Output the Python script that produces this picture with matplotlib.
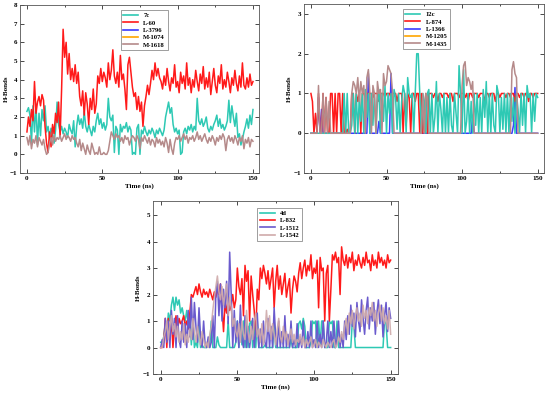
import matplotlib
matplotlib.use("Agg")
import matplotlib.pyplot as plt
from matplotlib.lines import Line2D
from matplotlib.ticker import MultipleLocator

plt.rcParams["font.family"] = ["Liberation Serif", "DejaVu Serif"]
plt.rcParams["font.weight"] = "bold"

# time axis, 1 ns steps, 0..150
time_ns = list(range(151))

# ---- panel A: 7c ----
a_7c = [
    2.3, 2.5, 2.1, 0.6, 2.6, 1.2, 2.7, 0.5, 2.2, 1.0,
    2.4, 1.8, 2.6, 1.2, 1.5, 0.9, 1.4, 1.1, 0.6, 1.3,
    2.8, 1.6, 1.2, 1.5, 1.1, 1.4, 1.2, 0.9, 1.6, 1.3,
    1.1, 1.8, 0.4, 1.5, 2.1, 1.6, 1.9, 1.4, 2.3, 1.5,
    1.2, 1.6, 1.3, 1.0, 1.5, 1.2, 1.8, 2.2, 1.6, 1.9,
    1.4, 1.7, 1.3, 1.6, 3.0, 2.0, 1.8, 2.1, 0.1, 1.5,
    1.3, 0.0, 1.6, 1.2, 1.5, 1.4, 1.7, 1.2, 1.5, 1.3,
    0.0, 0.1, 0.0, 1.4, 1.6, 0.0, 1.3, 1.1, 1.5, 1.2,
    1.0, 1.3, 1.1, 1.4, 1.2, 0.9, 1.3, 1.1, 1.4, 1.2,
    1.0, 1.3, 2.0, 2.4, 2.8, 2.2, 2.5, 1.6, 1.2, 1.4,
    1.1, 1.3, 0.0, 0.1, 1.2, 1.4, 1.1, 1.5, 1.3, 1.6,
    1.2, 1.5, 1.3, 3.0, 1.8, 1.6, 1.9, 1.5, 1.7, 2.0,
    1.4, 1.2, 1.5, 1.3, 1.6, 1.8, 2.1, 1.5, 1.9, 1.4,
    1.6, 1.3, 1.5, 1.8, 2.9, 1.7, 2.6, 2.0, 1.5, 2.2,
    0.9, 1.1, 0.5, 0.8, 1.2, 1.5, 1.9, 1.4, 2.1, 1.6, 2.4,
]
a_l60 = [
    1.2, 2.0, 1.5, 2.4, 1.8, 3.9, 2.2, 2.8, 3.1, 2.6,
    3.2, 2.9, 1.5, 0.6, 0.1, 1.2, 0.4, 1.6, 1.1, 2.2,
    1.7, 2.8, 0.9, 3.5, 6.7, 5.2, 6.0, 4.3, 5.4, 4.0,
    4.6, 3.9, 4.8, 3.8, 4.4, 3.1, 2.6, 3.4, 2.1, 3.3,
    2.7, 1.6, 3.0, 2.4, 3.5, 2.2, 2.7, 4.2, 3.8, 4.6,
    3.9, 4.4, 4.1, 3.6, 4.9, 4.0, 4.5, 5.6, 4.2, 3.8,
    4.4, 3.6, 5.3, 4.0, 4.3, 3.5, 2.4, 4.8, 5.2, 4.4,
    3.6, 3.1, 3.3, 2.4, 3.1, 2.3, 2.8, 1.5, 2.6, 3.1,
    3.7, 3.2, 3.8, 4.5, 4.0, 4.9, 4.2, 4.6, 4.1, 3.9,
    3.5, 4.2, 3.7, 4.6, 3.9, 3.4, 4.1, 3.8, 4.8, 3.6,
    3.9, 3.3, 4.4, 3.8, 4.2, 3.5, 4.9, 3.7, 4.1, 3.3,
    4.0, 3.6, 4.5, 3.9, 3.4, 4.3, 3.8, 4.7, 3.5, 4.1,
    3.6, 4.4, 3.2, 3.9, 4.6, 3.7, 3.3, 4.2, 3.8, 4.8,
    3.5, 4.0, 3.6, 4.4, 3.9, 3.3, 4.1, 3.7, 4.5, 3.8,
    3.4, 4.2, 3.6, 4.9, 3.7, 3.5, 4.1, 3.6, 4.3, 3.7, 3.9,
]
a_m1618 = [
    0.9, 0.5, 1.0, 0.3, 0.8, 0.6, 1.0, 0.4, 0.9, 0.7,
    0.5, 0.8, 0.3, 0.0, 0.1, 0.6, 0.9, 0.5, 1.0, 0.7,
    0.9, 0.8, 1.0, 0.7, 0.9, 1.1, 0.8, 1.0, 0.9, 0.7,
    1.0, 0.8, 0.9, 0.6, 0.4, 0.8, 0.2, 0.6, 0.3, 0.0,
    0.5, 0.2, 0.0, 0.6, 0.3, 0.0, 0.1, 0.0, 0.4, 0.0,
    0.0, 0.1, 0.0, 0.0, 0.2, 0.7, 1.2, 1.0, 0.8, 1.1,
    0.9, 1.0, 0.7, 0.9, 0.6, 1.0, 0.8, 0.9, 0.5, 0.8,
    1.0, 0.9, 0.7, 1.0, 0.8, 0.3, 0.9, 0.7, 1.0, 0.8,
    0.6, 0.9, 0.5, 0.8, 0.7, 0.4, 0.9, 0.6, 0.8, 0.5,
    0.7, 0.4, 0.9, 0.6, 0.1, 0.8, 0.3, 0.0, 0.6, 0.9,
    0.8, 1.0, 0.7, 0.9, 1.1, 0.8, 1.0, 0.6, 0.9, 0.8,
    1.0, 0.7, 0.9, 1.2, 0.8, 1.0, 0.7, 0.9, 1.1, 0.8,
    0.6, 0.9, 0.7, 1.0, 0.8, 0.5, 0.9, 0.7, 1.0, 0.8,
    1.1, 0.9, 0.2, 0.8, 1.0, 0.7, 0.9, 0.6, 1.0, 0.8,
    0.5, 0.9, 0.7, 1.0, 0.3, 0.8, 0.6, 0.9, 0.4, 0.8, 0.7,
]

# ---- panel B: 12c ----
b_12c = [
    0, 0, 0, 0, 0, 0, 0, 0, 0, 0,
    0, 0, 0, 0, 0, 0, 0, 0, 0, 0,
    0, 0, 1.0, 0, 1.0, 0, 0, 0.2, 1.0, 0,
    1.0, 0, 0.9, 0.3, 1.0, 0, 1.1, 0.4, 1.0, 0,
    1.0, 0.2, 1.0, 0, 0.8, 1.1, 0, 1.0, 0.3, 1.2,
    0, 1.0, 0.5, 1.0, 0, 1.1, 0.9, 0.1, 1.0, 0,
    0.8, 1.2, 1.0, 0, 1.4, 1.0, 0.9, 1.0, 0, 1.0,
    2.0, 2.0, 1.0, 0, 1.0, 0.8, 0, 1.0, 1.1, 0,
    1.0, 0, 0.4, 1.3, 0, 1.0, 0.6, 0, 1.0, 0,
    0.9, 0, 1.0, 0.2, 0, 1.0, 0.5, 0, 1.7, 1.0,
    0, 1.6, 0, 0.3, 1.0, 0, 0.8, 0, 1.0, 0.2,
    1.0, 0, 0.9, 0, 1.1, 0.4, 1.3, 0, 1.0, 0,
    1.0, 0.2, 0, 1.2, 1.0, 0, 0.9, 0.1, 1.0, 0,
    1.0, 0, 1.0, 0.3, 0.9, 0, 1.0, 0.6, 0, 1.0,
    0.2, 1.0, 0, 1.2, 0.9, 1.0, 0, 1.0, 0.3, 1.0, 0.9,
]
b_l874 = [
    1.0, 0.8, 0, 0.5, 0, 1.0, 0.1, 0, 1.0, 0,
    0.9, 0, 0, 1.0, 1.0, 0, 1.0, 0, 1.0, 1.0,
    0, 1.0, 0, 0, 0.1, 0, 0, 1.0, 1.0, 0,
    1.0, 0.8, 1.0, 0, 1.0, 1.0, 0.9, 1.0, 1.0, 1.0,
    1.0, 0.9, 1.0, 1.0, 1.0, 0.8, 1.0, 1.0, 1.0, 0.9,
    1.0, 1.0, 1.0, 0.9, 1.0, 1.0, 1.0, 0.8, 1.0, 1.0,
    1.0, 0, 1.0, 0.2, 1.0, 0.9, 0, 1.0, 1.0, 0.8,
    1.0, 1.0, 0, 1.0, 0, 0.5, 1.0, 0, 1.0, 1.0,
    1.0, 0.9, 1.0, 1.0, 0.8, 1.0, 1.0, 0.9, 1.0, 1.0,
    1.0, 0.9, 1.0, 1.0, 0.8, 1.0, 1.0, 1.0, 0.9, 1.0,
    1.0, 1.0, 0.9, 1.0, 0.8, 1.0, 1.0, 0.9, 1.0, 1.0,
    1.0, 0.9, 1.0, 1.0, 1.0, 0.8, 1.0, 1.0, 0.9, 1.0,
    1.0, 1.0, 0.8, 1.0, 1.0, 0.9, 1.0, 1.0, 1.0, 0.9,
    1.0, 1.0, 0.9, 1.0, 1.0, 0.8, 1.0, 1.0, 0.9, 1.0,
    1.0, 0.9, 1.0, 1.0, 0.8, 1.0, 1.0, 0.9, 1.0, 1.0, 1.0,
]
b_l1366 = [
    0, 0, 0, 0, 0, 0.9, 0, 0.6, 0, 0,
    0, 0, 0, 0, 0, 0, 0, 0, 0, 0,
    0, 0, 0, 0, 0, 0, 0, 0, 0, 0,
    0, 0, 0, 0, 0, 0, 0, 0, 1.5, 0,
    0, 0, 0, 0, 0, 0.3, 0, 0, 0, 0,
    0, 0, 0, 1.5, 0, 0, 0, 0, 0, 0,
    0, 0, 0, 0, 0, 0, 0, 0, 0, 0,
    0, 0, 0, 0, 0, 0, 0, 0, 0, 0,
    0, 0, 0, 0, 0, 0, 0, 0, 0, 0,
    0, 0, 0, 0, 0, 0, 0, 0, 0, 0,
    0, 0, 0, 0, 0, 0, 0, 0.45, 0, 0,
    0, 0, 0, 0, 0, 0, 0, 0, 0, 0,
    0, 0, 0, 0, 0, 0, 0, 0, 0, 0,
    0, 0, 0, 0, 0.2, 1.15, 0, 0, 0, 0,
    0, 0, 0, 0, 0, 0, 0, 0, 0, 0, 0,
]
b_m1435 = [
    0, 0, 0, 0, 0, 1.2, 0, 0, 1.0, 0,
    0.9, 0, 0.8, 0, 0, 0, 0, 0, 0, 0,
    0, 0, 0, 0, 0, 0, 0, 1.0, 1.3, 1.2,
    1.0, 1.4, 0.8, 1.3, 1.0, 1.2, 0, 1.4, 1.6, 1.0,
    0, 1.2, 1.0, 0, 1.3, 1.0, 1.1, 0, 1.5, 1.2,
    1.3, 1.7, 1.6, 1.5, 1.0, 0, 0, 0, 0, 0,
    0, 0, 0, 0, 0, 0, 0, 0, 0, 0,
    0, 0, 0, 0, 1.0, 0, 1.0, 0.9, 0, 0,
    0, 0, 0, 0, 0, 0, 0, 0, 0, 0,
    0, 0, 0, 0, 0, 0, 0, 0, 0, 0,
    1.2, 1.7, 1.8, 1.2, 1.4, 1.3, 1.1, 1.3, 0, 0,
    0, 0, 0, 0, 0, 0, 0, 0, 0, 0,
    0, 0, 0, 0, 0, 0, 0, 0, 0, 0,
    0, 0, 0, 1.6, 1.8, 1.5, 1.4, 0, 0, 0,
    0, 0, 0, 0, 0, 0, 0, 0, 0, 0, 0,
]

# ---- panel C: 4d ----
c_4d = [
    0.2, 0.2, 0.4, 0.9, 0.5, 1.3, 1.0, 1.6, 1.9, 1.4,
    1.9, 1.6, 1.8, 1.3, 1.5, 1.2, 1.0, 1.4, 0.9, 1.1,
    0.1, 1.0, 0, 0.2, 0, 1.0, 0, 0.1, 0, 0,
    0, 0.3, 0, 1.0, 0, 0, 0, 0.4, 0.1, 0,
    0, 0, 0, 0, 1.0, 0, 0, 0, 0, 0.2,
    1.0, 0, 1.0, 0.1, 1.0, 0, 1.0, 0, 0.9, 1.0,
    0, 1.0, 0, 1.0, 0, 0, 0, 0, 0.1, 0,
    0, 0, 0, 0, 1.0, 0, 0, 0, 0, 0,
    0, 0, 0, 0, 0, 0.3, 0, 0, 0, 0,
    0.9, 1.0, 0.7, 1.1, 0.8, 0, 0, 0, 0.2, 1.0,
    0.9, 1.0, 0, 1.0, 0.1, 1.0, 1.0, 0, 0, 0,
    1.0, 0.9, 1.0, 0, 0, 1.0, 0, 0, 0, 0,
    0, 0, 0, 0, 0, 1.0, 0.8, 0, 0, 0,
    0, 0, 0, 0, 0, 0, 0, 0, 0, 0,
    0, 0, 0, 0, 0, 0, 1.0, 0.9, 0, 0, 0,
]
c_l832 = [
    0, 0, 0.2, 1.1, 0, 1.1, 0.3, 1.1, 0, 0.8,
    1.2, 0.6, 1.1, 0.9, 1.0, 1.2, 0.8, 1.0, 0.7, 1.3,
    2.0, 1.9, 2.1, 2.3, 2.0, 2.4, 2.1, 1.9, 2.2, 2.0,
    2.1, 1.9, 2.2, 2.0, 1.8, 2.1, 1.9, 2.2, 2.0, 2.4,
    1.5, 0.6, 1.7, 1.3, 1.9, 1.4, 1.6, 2.0, 1.5, 1.8,
    3.0, 2.3, 2.0, 2.6, 1.2, 3.1, 2.5, 2.9, 1.0, 2.7,
    2.0, 1.4, 0.5, 2.2, 1.8, 3.0, 2.6, 3.1, 2.8, 2.4,
    2.9, 2.2, 2.6, 3.0, 1.5, 2.5, 3.1, 2.2, 2.7, 2.0,
    2.4, 2.8, 1.9, 2.3, 2.6, 1.3, 2.2, 2.7, 2.5, 2.1,
    2.8, 3.2, 2.6, 3.0, 3.3, 2.7, 3.1, 2.9, 3.5, 2.6,
    3.0, 2.8, 3.3, 1.5, 3.4, 2.9, 3.0, 1.0, 2.8, 3.1,
    1.0, 2.2, 3.5, 3.3, 3.6, 3.2, 3.4, 2.0, 3.8, 3.3,
    3.1, 3.5, 3.0, 3.4, 3.2, 3.6, 2.9, 3.3, 3.1, 3.5,
    3.2, 3.0, 3.4, 3.1, 3.6, 3.2, 3.3, 2.9, 3.5, 3.1,
    3.3, 3.0, 3.6, 3.2, 3.4, 3.1, 3.3, 3.0, 3.5, 3.2, 3.3,
]
c_l1512 = [
    0, 0.3, 0, 1.1, 0.2, 1.0, 0, 1.4, 0.5, 1.1,
    0, 1.2, 0.3, 0, 1.0, 0.2, 0.9, 0, 1.4, 0.4,
    1.9, 0.3, 1.7, 0.8, 0.2, 1.5, 0.4, 0, 1.0, 0.1,
    0, 0.4, 0, 0.2, 1.2, 0, 2.0, 2.5, 1.2, 2.4,
    1.0, 2.2, 1.5, 2.5, 0.9, 3.6, 2.0, 0, 1.4, 0.2,
    1.0, 0, 1.6, 0.3, 0, 1.2, 0, 0.8, 0, 0.5,
    1.1, 0, 0.6, 1.3, 0, 0.7, 0, 1.0, 0.2, 0,
    1.1, 0, 0.8, 0, 1.5, 0.4, 0, 1.0, 0, 0.6,
    0, 1.2, 0, 0.5, 0, 1.0, 0, 0.3, 0, 0.9,
    0, 0.4, 0, 1.0, 0, 0, 0.6, 0, 1.0, 0,
    0.3, 0, 1.0, 0, 0.5, 0, 1.0, 0, 0.2, 1.0,
    0, 0.6, 0, 1.0, 0, 0.3, 1.0, 0, 0.5, 0,
    1.0, 0.3, 1.2, 0.5, 1.6, 0.8, 1.3, 0.4, 1.7, 1.0,
    0.6, 1.8, 1.1, 0.5, 1.4, 1.9, 0.7, 1.5, 1.0, 1.7,
    0.5, 1.3, 1.8, 0.9, 1.6, 0.4, 1.2, 1.7, 0.6, 1.5, 1.1,
]
c_l1542 = [
    0, 0, 0.4, 0.6, 1.0, 0.3, 0.8, 1.2, 0.6, 0.9,
    0.4, 0.8, 0.2, 0.6, 0.3, 0.9, 0.1, 0.5, 0.2, 0.7,
    0.3, 1.1, 0.6, 0.2, 0.8, 0.4, 0.1, 0.6, 0.3, 0,
    0.2, 0, 0.5, 0.8, 1.4, 1.9, 2.3, 2.7, 2.1, 1.8,
    2.3, 1.6, 2.0, 2.4, 1.2, 1.9, 1.5, 0.8, 1.1, 0.6,
    0.4, 0.9, 0.2, 1.0, 0.5, 0.3, 1.4, 0.6, 0.2, 0.8,
    0.3, 1.0, 1.3, 0.4, 0.7, 0.2, 0.9, 0.1, 0.5, 1.4,
    0.6, 1.2, 0.3, 0.9, 0.5, 0.1, 0.7, 1.1, 0.4, 0.2,
    0.8, 0.3, 0.6, 0.1, 0.4, 0.7, 0.2, 0.5, 0.1, 0.3,
    0.2, 0.5, 0.1, 0.4, 0, 0.3, 0.1, 0.2, 0.4, 0,
    0.1, 0.3, 0, 0.2, 0.1, 0, 0.3, 0.1, 0, 0.2,
    0.1, 0, 0.2, 0.3, 0, 0.1, 0.4, 0.2, 0.6, 0.3,
    0.8, 1.1, 0.5, 1.3, 0.9, 1.4, 0.7, 1.2, 1.5, 1.0,
    1.3, 0.8, 1.6, 1.1, 1.4, 0.9, 1.5, 1.2, 1.7, 1.0,
    1.4, 0.8, 1.3, 1.6, 1.0, 1.5, 0.9, 1.2, 0.7, 1.4, 0.5,
]

TURQ = "#2ec9b4"
RED = "#ff1a1a"
BLUE = "#3b3bff"
ORANGE = "#ffa500"
BROWN = "#b58a8a"
VIOLET = "#6a5acd"
PINK = "#cfaaaa"
LW = 1.1


def style_axes(ax, ylim, xlim):
    ax.set_xlim(*xlim)
    ax.set_ylim(*ylim)
    ax.xaxis.set_major_locator(MultipleLocator(50))
    ax.xaxis.set_minor_locator(MultipleLocator(25))
    ax.yaxis.set_major_locator(MultipleLocator(1))
    ax.tick_params(which="both", direction="in", top=True, right=True,
                   labelsize=5, width=0.5, pad=2)
    ax.tick_params(which="major", length=3)
    ax.tick_params(which="minor", length=1.5)
    for sp in ax.spines.values():
        sp.set_linewidth(0.6)
        sp.set_color("#555555")
    ax.set_xlabel("Time (ns)", fontsize=5, fontweight="bold", labelpad=2)
    ax.set_ylabel("H-Bonds", fontsize=5, fontweight="bold", labelpad=1)


def add_legend(ax, items, x, y):
    handles = [Line2D([0], [0], color=c, lw=1.2) for _, c in items]
    labels = [n for n, _ in items]
    leg = ax.legend(handles, labels, loc="upper center", bbox_to_anchor=(x, y),
                    fontsize=4.8, frameon=True, fancybox=False, handlelength=2.2,
                    handletextpad=0.8, borderpad=0.4, labelspacing=0.25)
    leg.get_frame().set_edgecolor("#777777")
    leg.get_frame().set_linewidth(0.5)
    leg.get_frame().set_alpha(1.0)
    for t in leg.get_texts():
        t.set_fontweight("bold")


fig = plt.figure(figsize=(5.5, 3.97), dpi=100)

ax1 = fig.add_axes([0.0364, 0.5642, 0.4345, 0.4232])
ax1.plot(time_ns, a_7c, color=TURQ, lw=LW)
ax1.plot(time_ns, a_l60, color=RED, lw=LW)
ax1.plot(time_ns, a_m1618, color=BROWN, lw=LW)
style_axes(ax1, (-1, 8), (-4.6, 154))
add_legend(ax1, [("7c", TURQ), ("L-60", RED), ("L-3796", BLUE),
                 ("M-1074", ORANGE), ("M-1618", BROWN)], 0.52, 0.99)

ax2 = fig.add_axes([0.5527, 0.5642, 0.4364, 0.4257])
ax2.plot(time_ns, b_l1366, color=BLUE, lw=LW)
ax2.plot(time_ns, b_l874, color=RED, lw=LW)
ax2.plot(time_ns, b_12c, color=TURQ, lw=LW)
ax2.plot(time_ns, b_m1435, color=BROWN, lw=LW)
style_axes(ax2, (-1, 3.25), (-4.6, 154.2))
add_legend(ax2, [("12c", TURQ), ("L-874", RED), ("L-1366", BLUE),
                 ("M-1205", ORANGE), ("M-1435", BROWN)], 0.51, 0.99)

ax3 = fig.add_axes([0.2782, 0.0579, 0.4455, 0.4358])
ax3.plot(time_ns, c_4d, color=TURQ, lw=LW)
ax3.plot(time_ns, c_l832, color=RED, lw=LW)
ax3.plot(time_ns, c_l1512, color=VIOLET, lw=LW)
ax3.plot(time_ns, c_l1542, color=PINK, lw=LW, alpha=0.9)
style_axes(ax3, (-1, 5.53), (-5, 154.8))
add_legend(ax3, [("4d", TURQ), ("L-832", RED), ("L-1512", VIOLET),
                 ("L-1542", PINK)], 0.518, 0.98)

fig.savefig("out.png", dpi=100)
